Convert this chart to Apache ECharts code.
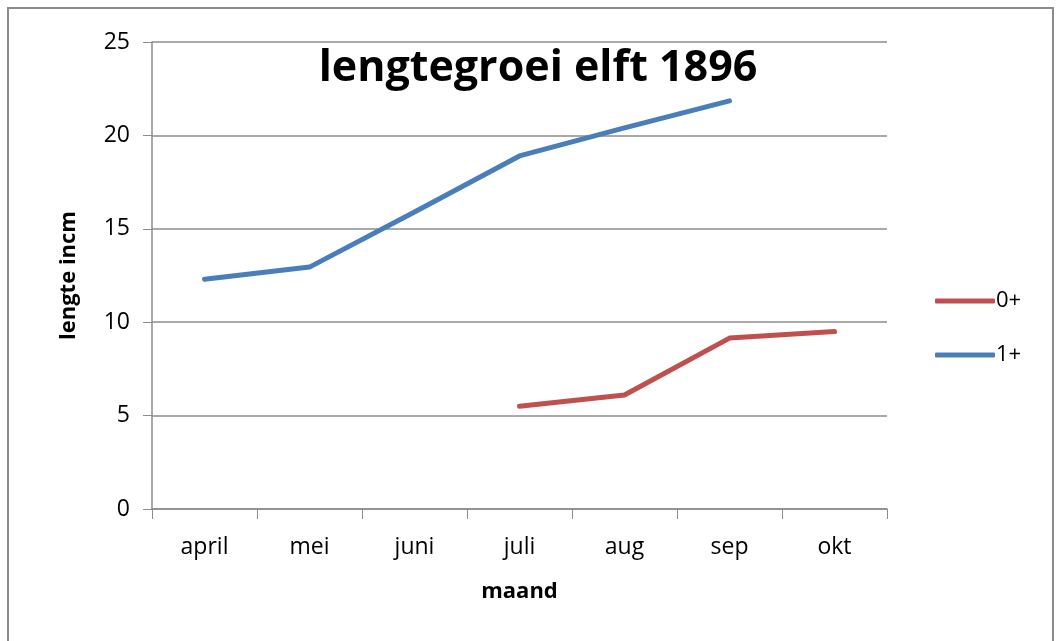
<!DOCTYPE html>
<html><head><meta charset="utf-8">
<script src="https://cdn.jsdelivr.net/npm/echarts@6/dist/echarts.min.js"></script>
<style>html,body{margin:0;padding:0;background:#fff}#c{width:1058px;height:641px}
#frame{position:absolute;left:7px;top:7px;width:1043px;height:650px;border:2px solid #8c8c8c;pointer-events:none}</style>
</head><body><div id="c"></div><div id="frame"></div>
<script>
const categories = ['april','mei','juni','juli','aug','sep','okt'];
const series0 = [null, null, null, 5.5, 6.1, 9.15, 9.5];
const series1 = [12.3, 12.95, 15.9, 18.9, 20.4, 21.85, null];
const yTicks = [0, 5, 10, 15, 20, 25];
const font = 'Open Sans';
const chart = echarts.init(document.getElementById('c'), null, {renderer:'canvas'});
chart.setOption({
  animation:false,
  backgroundColor:'#fff',
  title:{text:'lengtegroei elft 1896', left:533, textAlign:'center', top:42,
    textStyle:{fontFamily:font, fontWeight:'bold', fontSize:43, color:'#000'}},
  grid:{left:152, right:171, top:42, bottom:132},
  legend:{orient:'vertical', left:930, top:285, itemGap:32, itemWidth:60, itemHeight:5,
    textStyle:{fontFamily:font, fontSize:22, color:'#000', padding:[0,0,0,-4]},
    data:[{name:'0+', icon:'roundRect'},{name:'1+', icon:'roundRect'}]},
  xAxis:{type:'category', data:categories, boundaryGap:true,
    name:'maand', nameLocation:'middle', nameGap:72,
    nameTextStyle:{fontFamily:font, fontWeight:'bold', fontSize:22, color:'#000'},
    axisLine:{lineStyle:{color:'#8c8c8c', width:1.5}},
    axisTick:{show:true, length:10, inside:false, lineStyle:{color:'#8c8c8c'}},
    axisLabel:{fontFamily:font, fontSize:23, color:'#000', margin:27}},
  yAxis:{type:'value', min:0, max:25, interval:5,
    name:'lengte incm', nameLocation:'middle', nameGap:72, nameRotate:90,
    nameTextStyle:{fontFamily:font, fontWeight:'bold', fontSize:22, color:'#000'},
    axisLine:{show:true, lineStyle:{color:'#8c8c8c', width:1.5}},
    axisTick:{show:true, length:9, lineStyle:{color:'#8c8c8c'}},
    axisLabel:{fontFamily:font, fontSize:23, color:'#000', margin:22,
      formatter:v => yTicks.includes(v) ? String(v) : ''},
    splitLine:{lineStyle:{color:'#8c8c8c', width:1.5}}},
  series:[
    {name:'0+', type:'line', data:series0, symbol:'none', connectNulls:false,
     lineStyle:{color:'#c0504d', width:5, cap:'round', join:'round'}, itemStyle:{color:'#c0504d'}},
    {name:'1+', type:'line', data:series1, symbol:'none', connectNulls:false,
     lineStyle:{color:'#4a7ebb', width:5, cap:'round', join:'round'}, itemStyle:{color:'#4a7ebb'}}
  ]
});
</script></body></html>
